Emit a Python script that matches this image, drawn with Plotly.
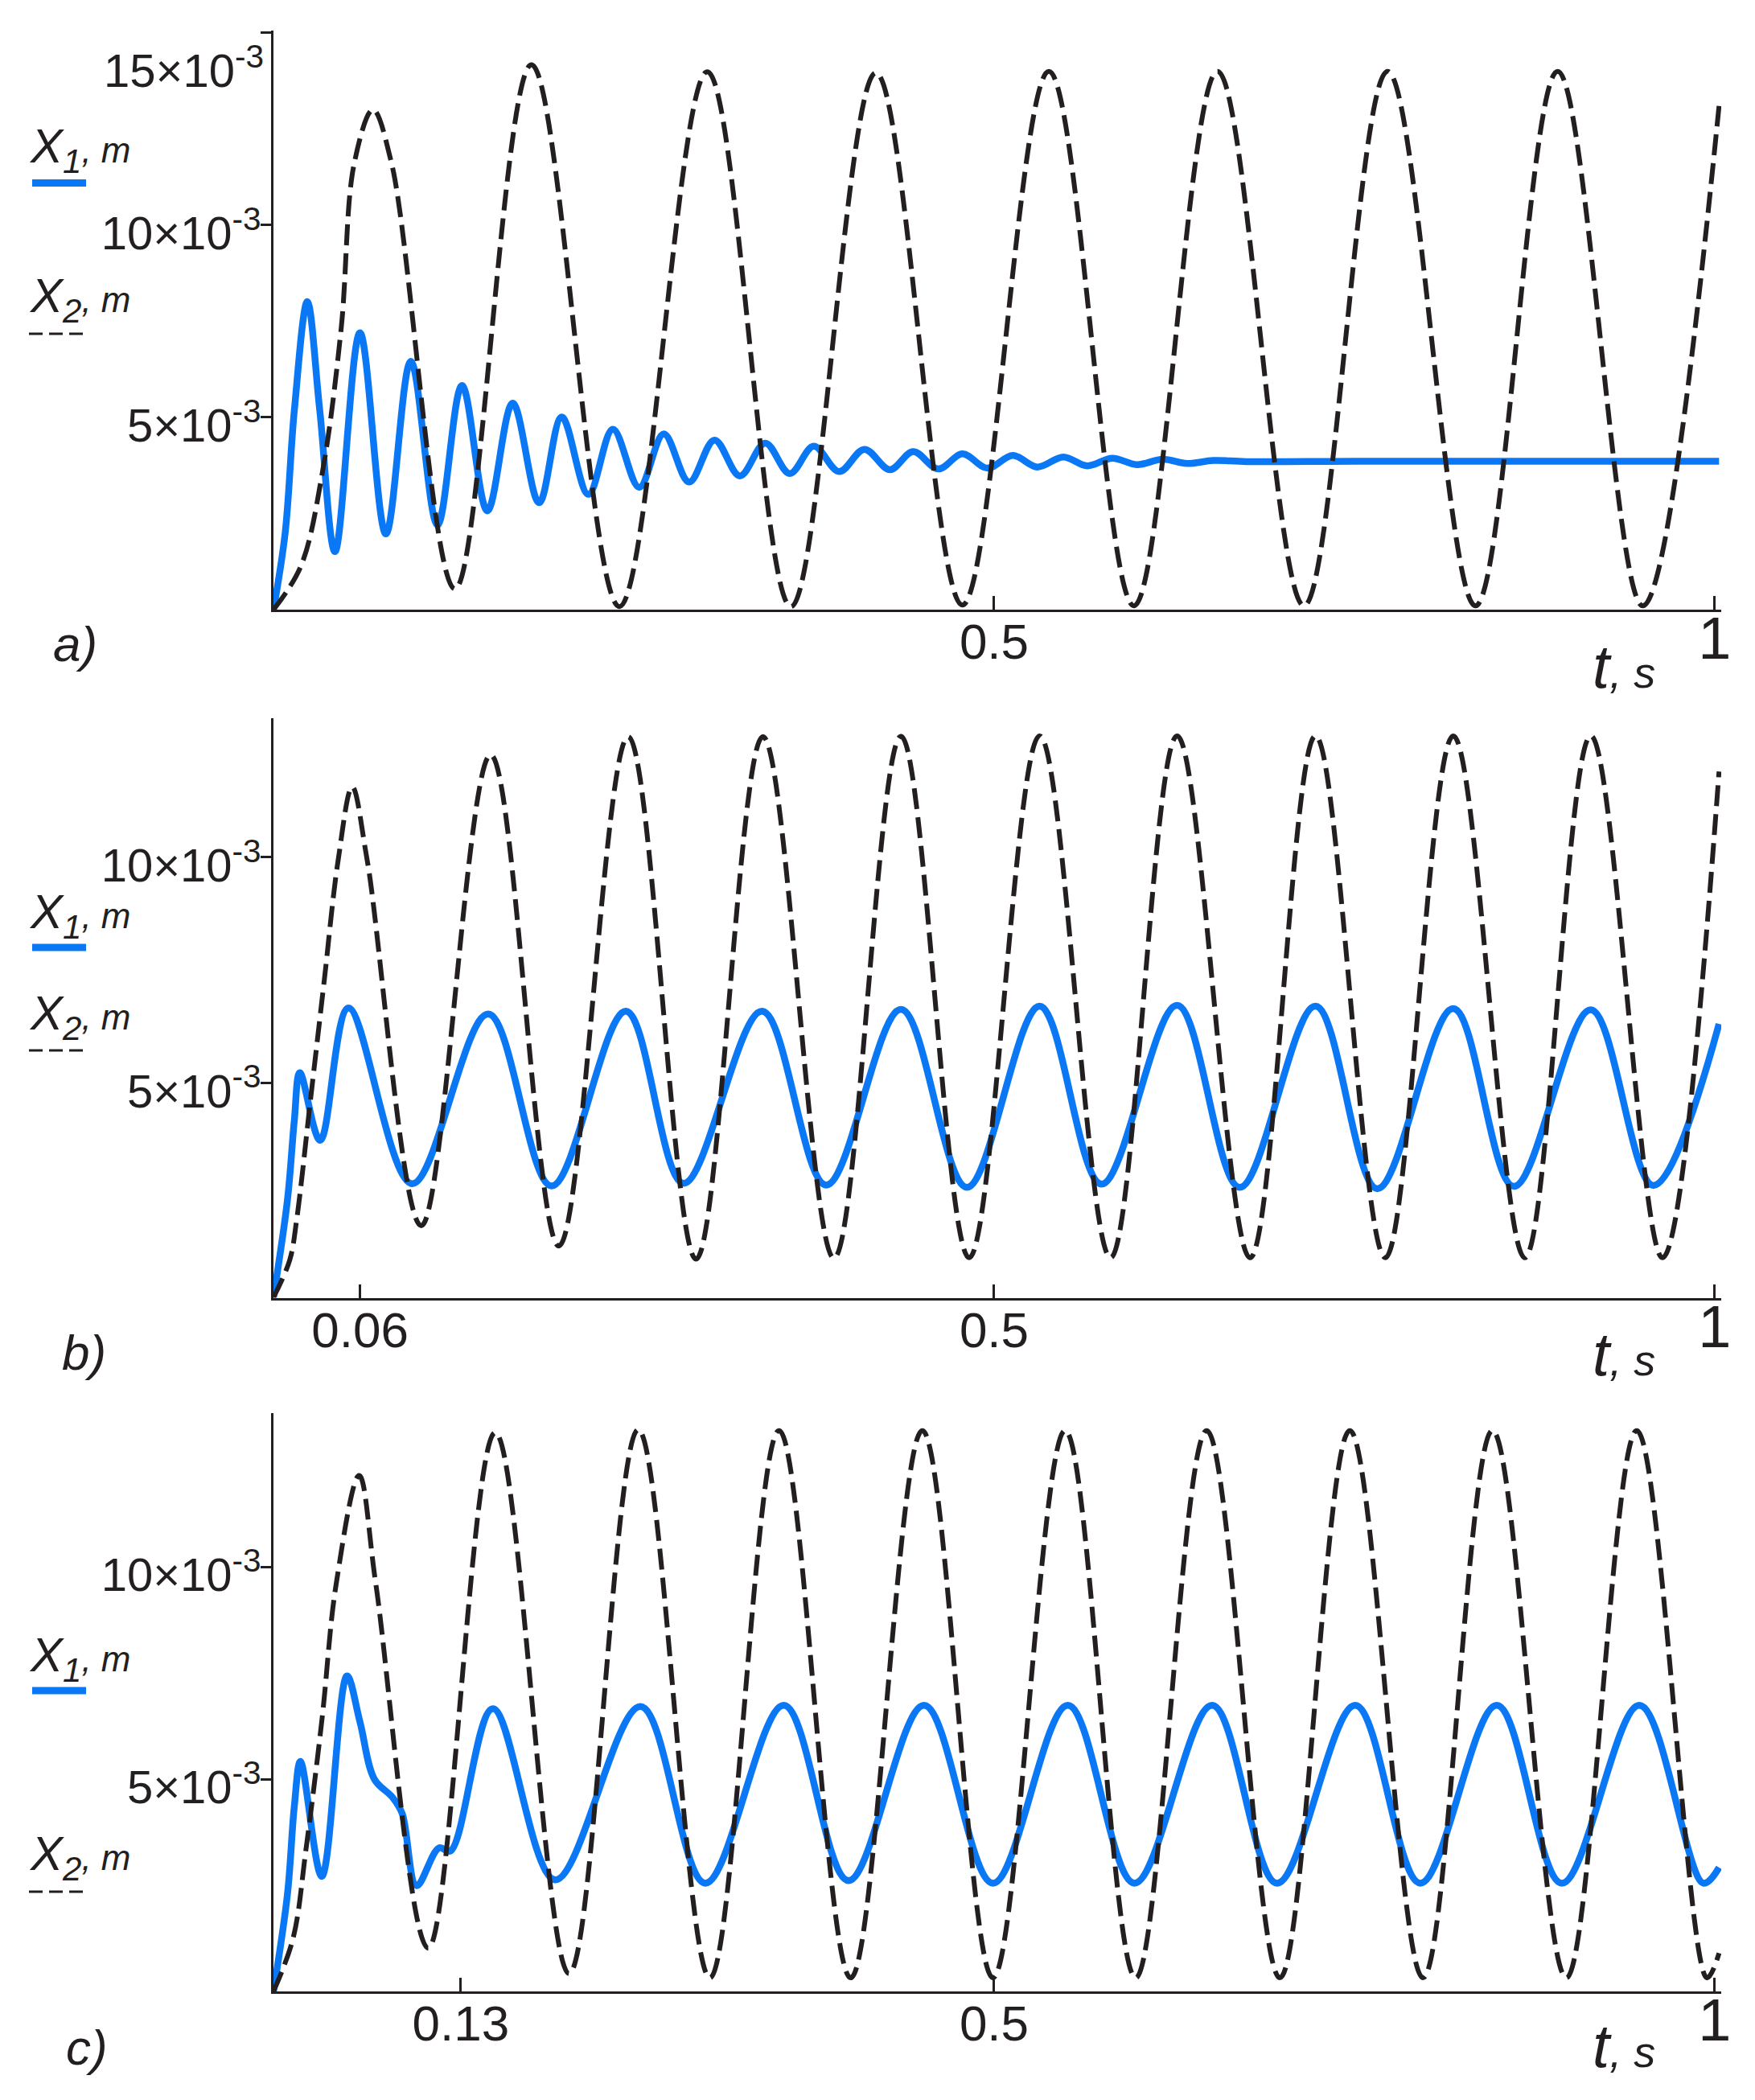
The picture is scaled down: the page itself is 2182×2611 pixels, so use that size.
"""
Displacements X1 (solid) and X2 (dashed) over time for three cases a), b), c)
"""
import numpy as np
import plotly.graph_objects as go

W, H = 2182, 2611
OFF = 8  # page margin around the plot div
BLUE = '#0a78f5'
INK = '#231f20'
FONT = 'Liberation Sans, Arial, sans-serif'

# ---- data (t in s, displacement in mm) ----
# panel a)
a_x1_t = [0, 0.0081, 0.0145, 0.0235, 0.0321, 0.0427, 0.060, 0.078, 0.0953, 0.1138,
          0.1308, 0.1484, 0.166, 0.1843, 0.200, 0.2185, 0.2355, 0.2538, 0.2708, 0.2884,
          0.306, 0.3236, 0.3412, 0.3582, 0.3749, 0.3925, 0.410, 0.4277, 0.4438, 0.4613,
          0.478, 0.4954, 0.513, 0.530, 0.548, 0.5647, 0.582, 0.599, 0.617, 0.634,
          0.652, 0.675, 0.75, 0.85, 1.003]
a_x1_mm = [0, 1.99, 5.19, 8.01, 5.19, 1.51, 7.20, 1.97, 6.46, 2.20,
           5.83, 2.57, 5.37, 2.78, 5.01, 3.00, 4.69, 3.18, 4.57, 3.32,
           4.41, 3.48, 4.33, 3.54, 4.25, 3.59, 4.17, 3.64, 4.11, 3.66,
           4.05, 3.68, 4.01, 3.71, 3.97, 3.74, 3.94, 3.77, 3.91, 3.80,
           3.88, 3.85, 3.86, 3.86, 3.86]
a_x2_t = [0, 0.019, 0.034, 0.047, 0.056, 0.069, 0.082, 0.126, 0.179, 0.240,
          0.301, 0.359, 0.418, 0.478, 0.538, 0.597, 0.655, 0.715, 0.773, 0.834,
          0.891, 0.950, 1.003]
a_x2_mm = [0, 1.13, 3.58, 7.32, 11.6, 13.0, 11.6, 0.54, 14.17, 0.08,
           13.99, 0.08, 13.96, 0.12, 14.0, 0.1, 14.0, 0.1, 14.0, 0.1,
           14.0, 0.1, 13.1]

# panel b)
b_x1_t = [0, 0.0097, 0.0145, 0.0183, 0.0324, 0.052, 0.0962, 0.149, 0.1929, 0.2445,
          0.2845, 0.339, 0.3835, 0.4354, 0.4811, 0.5316, 0.5745, 0.627, 0.6704, 0.723,
          0.7659, 0.8186, 0.8606, 0.914, 0.9574, 1.003]
b_x1_mm = [0.25, 2.41, 4.18, 5.23, 3.73, 6.66, 2.77, 6.53, 2.72, 6.59,
           2.78, 6.59, 2.74, 6.63, 2.69, 6.70, 2.76, 6.72, 2.69, 6.70,
           2.66, 6.65, 2.71, 6.62, 2.73, 6.31]
b_x2_t = [0, 0.0113, 0.0161, 0.0257, 0.0353, 0.0449, 0.0546, 0.065, 0.1026, 0.1507,
          0.198, 0.2461, 0.2932, 0.3396, 0.3889, 0.4354, 0.4827, 0.5316, 0.5808, 0.627,
          0.6776, 0.723, 0.7714, 0.8186, 0.8682, 0.914, 0.9637, 1.003]
b_x2_mm = [0.25, 1.08, 1.97, 4.63, 7.29, 9.94, 11.56, 9.94, 1.84, 12.27,
           1.39, 12.67, 1.10, 12.67, 1.12, 12.68, 1.13, 12.69, 1.13, 12.69,
           1.13, 12.69, 1.13, 12.69, 1.13, 12.69, 1.13, 11.9]

# panel c)
c_x1_t = [0, 0.0097, 0.0145, 0.0187, 0.0335, 0.051, 0.0600, 0.0700, 0.0826, 0.0893,
          0.0993, 0.1148, 0.1229, 0.1522, 0.1955, 0.2547, 0.2996, 0.3541, 0.3989, 0.4514,
          0.4992, 0.5512, 0.5974, 0.6513, 0.6963, 0.7506, 0.7957, 0.8488, 0.8939, 0.9478,
          0.9921, 1.003]
c_x1_mm = [0, 2.29, 4.37, 5.42, 2.71, 7.43, 6.35, 5.0, 4.57, 4.19,
           2.49, 3.38, 3.31, 6.66, 2.63, 6.71, 2.55, 6.74, 2.61, 6.74,
           2.55, 6.74, 2.55, 6.74, 2.55, 6.74, 2.55, 6.74, 2.55, 6.74,
           2.55, 2.92]
c_x2_t = [0, 0.0136, 0.0225, 0.0338, 0.0434, 0.0594, 0.071, 0.1074, 0.1539, 0.2051,
          0.2531, 0.3028, 0.3508, 0.4005, 0.4502, 0.4992, 0.5493, 0.5982, 0.6475, 0.6983,
          0.7468, 0.7976, 0.8458, 0.897, 0.9459, 0.9945, 1.003]
c_x2_mm = [0, 1.25, 3.33, 6.45, 9.57, 12.15, 9.6, 1.02, 13.16, 0.42,
           13.23, 0.32, 13.21, 0.32, 13.21, 0.32, 13.21, 0.32, 13.21, 0.32,
           13.21, 0.32, 13.21, 0.32, 13.21, 0.32, 0.9]

# ticks
a_yticks_mm = [5, 10, 15]
b_yticks_mm = [5, 10]
c_yticks_mm = [5, 10]
a_xticks = [0.5, 1]
b_xticks = [0.06, 0.5, 1]
c_xticks = [0.13, 0.5, 1]
panel_names = ['a)', 'b)', 'c)']


def px(x):
    return (x - OFF) / W


def py(y):
    return 1 - (y - OFF) / H


def ytick_text(v):
    return f'{v}×10<sup>-3</sup>'


def xtick_text(v):
    if v == 1:
        return '<span style="font-size:74px">1</span>'
    return f'{v:g}'


fig = go.Figure()

# pixel frame of each panel: top, bottom of the plot area, y-range in mm
frames = [
    dict(top=38, bottom=758, yr=[0, 15.06]),
    dict(top=893, bottom=1613.5, yr=[0.244, 13.08]),
    dict(top=1757, bottom=2476, yr=[0, 13.62]),
]
series = [
    (a_x1_t, a_x1_mm, a_x2_t, a_x2_mm, a_yticks_mm, a_xticks),
    (b_x1_t, b_x1_mm, b_x2_t, b_x2_mm, b_yticks_mm, b_xticks),
    (c_x1_t, c_x1_mm, c_x2_t, c_x2_mm, c_yticks_mm, c_xticks),
]
# legend / label positions in pixels
legend_pos = [
    dict(x1=186, x1_line=227.5, x2=372, x2_line=415, lab=(93, 800), ts=828),
    dict(x1=1138, x1_line=1178, x2=1264, x2_line=1306, lab=(104, 1681), ts=1683),
    dict(x1=2062, x1_line=2102, x2=2309, x2_line=2352, lab=(108, 2545), ts=2543),
]

layout = {}
annotations = []
shapes = []
for i, (fr, s, lp) in enumerate(zip(frames, series, legend_pos)):
    n = i + 1
    sfx = '' if n == 1 else str(n)
    x1_t, x1_mm, x2_t, x2_mm, yt, xt = s
    yrange = [fr['yr'][0] * 1e-3, fr['yr'][1] * 1e-3]
    ydom = [py(fr['bottom']), py(fr['top'])]

    fig.add_trace(go.Scatter(
        x=x1_t, y=np.array(x1_mm) * 1e-3, mode='lines',
        line=dict(color=BLUE, width=8.5, shape='spline', smoothing=1),
        xaxis='x' + sfx, yaxis='y' + sfx, hoverinfo='skip'))
    fig.add_trace(go.Scatter(
        x=x2_t, y=np.array(x2_mm) * 1e-3, mode='lines',
        line=dict(color=INK, width=6, dash='26px,10px', shape='spline', smoothing=1),
        xaxis='x' + sfx, yaxis='y' + sfx, hoverinfo='skip'))

    # the top label of panel a) sits below its tick, so it is placed by hand
    ylabels = [ytick_text(v) if not (n == 1 and v == 15) else '' for v in yt]

    layout['xaxis' + sfx] = dict(
        domain=[px(340), px(2140)], anchor='y' + sfx, range=[0, 1.0045],
        automargin=False,
        showline=True, linecolor=INK, linewidth=2.5, showgrid=False, zeroline=False,
        ticks='inside', ticklen=17, tickwidth=2.5, tickcolor=INK,
        tickvals=xt, ticktext=[xtick_text(v) for v in xt],
        tickfont=dict(family=FONT, size=62, color=INK), ticklabelstandoff=-16)
    layout['yaxis' + sfx] = dict(
        domain=ydom, anchor='x' + sfx, range=yrange,
        automargin=False,
        showline=True, linecolor=INK, linewidth=2.5, showgrid=False, zeroline=False,
        ticks='outside', ticklen=13, tickwidth=2.5, tickcolor=INK,
        tickvals=[v * 1e-3 for v in yt], ticktext=ylabels,
        tickfont=dict(family=FONT, size=58, color=INK), ticklabelstandoff=-12,
        ticklabelshift=10)
    # second set of ticks on the inner side so they cross the axis
    layout['yaxis' + str(n + 3)] = dict(
        overlaying='y' + sfx, anchor='x' + sfx, range=yrange,
        automargin=False,
        showline=False, showgrid=False, zeroline=False,
        ticks='inside', ticklen=13, tickwidth=2.5, tickcolor=INK,
        tickvals=[v * 1e-3 for v in yt], showticklabels=False)

    if n == 1:
        annotations.append(dict(
            x=px(330), y=py(84), xref='paper', yref='paper',
            text=ytick_text(15), showarrow=False,
            xanchor='right', yanchor='middle',
            font=dict(family=FONT, size=58, color=INK)))
    # panel label
    annotations.append(dict(
        x=px(lp['lab'][0]), y=py(lp['lab'][1]), xref='paper', yref='paper',
        text=f'<i>{panel_names[i]}</i>', showarrow=False,
        xanchor='center', yanchor='middle',
        font=dict(family=FONT, size=62, color=INK)))
    # axis title t, s
    annotations.append(dict(
        x=px(1978), y=py(lp['ts']), xref='paper', yref='paper',
        text='<i>t</i><span style="font-size:54px"><i>, s</i></span>',
        showarrow=False, xanchor='left', yanchor='middle',
        font=dict(family=FONT, size=76, color=INK)))
    # legend texts
    for k, key in ((1, 'x1'), (2, 'x2')):
        annotations.append(dict(
            x=px(34), y=py(lp[key]), xref='paper', yref='paper',
            text=f'<i>X</i><sub><i>{k}</i></sub><span style="font-size:44px"><i>, m</i></span>',
            showarrow=False, xanchor='left', yanchor='middle',
            font=dict(family=FONT, size=60, color=INK)))
    shapes.append(dict(
        type='line', xref='paper', yref='paper',
        x0=px(40), x1=px(107), y0=py(lp['x1_line']), y1=py(lp['x1_line']),
        line=dict(color=BLUE, width=9)))
    shapes.append(dict(
        type='line', xref='paper', yref='paper',
        x0=px(36), x1=px(103), y0=py(lp['x2_line']), y1=py(lp['x2_line']),
        line=dict(color=INK, width=3, dash='17px,8px')))

fig.update_layout(
    **layout,
    annotations=annotations,
    shapes=shapes,
    width=W, height=H,
    margin=dict(l=0, r=0, t=0, b=0),
    paper_bgcolor='white', plot_bgcolor='white',
    showlegend=False,
    font=dict(family=FONT, color=INK))

fig.write_html("out.html")
